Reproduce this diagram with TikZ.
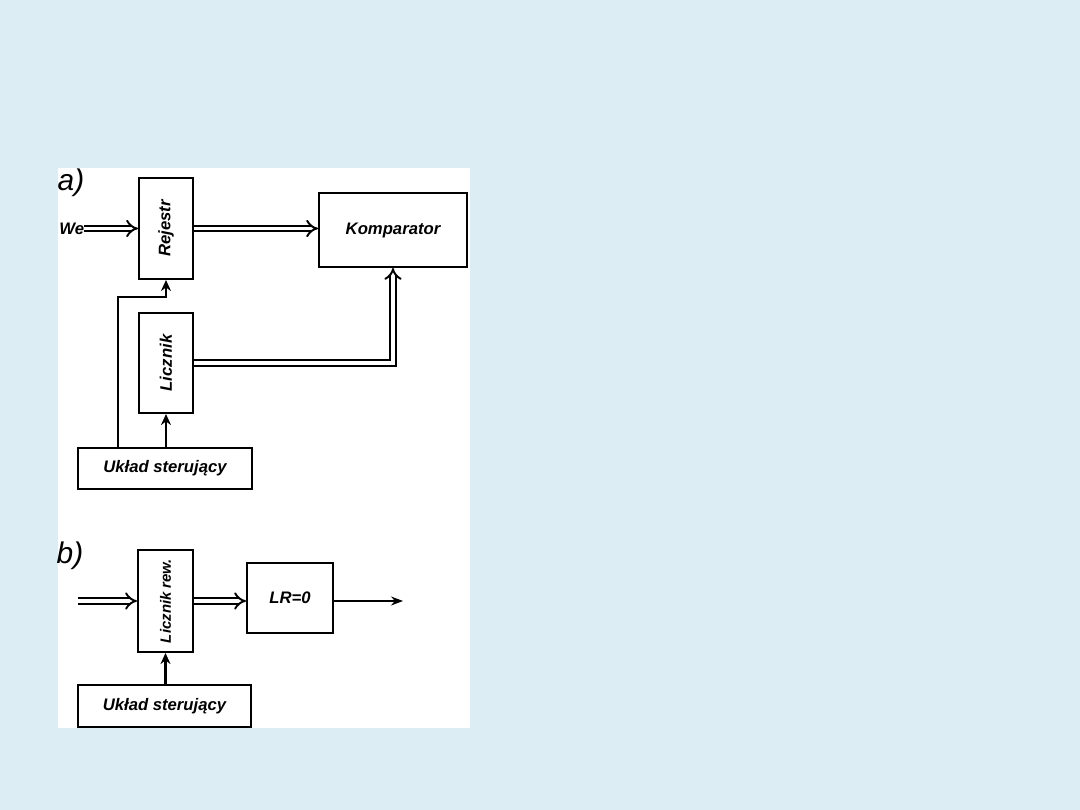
\documentclass[tikz,border=0pt]{standalone}
\usepackage{fontspec}
\setmainfont{Liberation Sans}
\usepackage{tikz}
\usetikzlibrary{arrows.meta, positioning}
\definecolor{slidebg}{HTML}{DCEEF4}

\begin{document}
\begin{tikzpicture}[
    x=0.02cm, y=-0.02cm,
    box/.style={draw, line width=1.2pt, fill=white, inner sep=0pt, align=center,
      font=\bfseries\itshape\fontsize{9.5}{11}\selectfont},
    lbl/.style={inner sep=0pt, font=\bfseries\itshape\fontsize{9.5}{11}\selectfont},
    part/.style={inner sep=0pt, font=\itshape\fontsize{17}{19}\selectfont},
    dbl/.style={-{Implies}, double, double distance=2.2pt, line width=1.1pt},
    arr/.style={-{Stealth[length=2.2mm, width=2mm]}, line width=1.2pt},
    thin arr/.style={-{Stealth[length=2.4mm, width=1.8mm]}, line width=0.6pt},
  ]
    % background of the slide
    \fill[slidebg] (0,0) rectangle (1080,810);
    \fill[white] (58,168) rectangle (470,728);

    % part a)
    \node[part] (pa) at (71,183) {a)};
    \node[box, minimum width=1.08cm, minimum height=2.02cm] (rej) at (166,228.5) {\rotatebox{90}{Rejestr}};
    \node[box, minimum width=2.96cm, minimum height=1.48cm] (komp) at (393,230) {Komparator};
    \node[box, minimum width=1.08cm, minimum height=2.0cm] (licz) at (166,363) {\rotatebox{90}{Licznik}};
    \node[box, minimum width=3.48cm, minimum height=0.82cm] (uklA) at (165,468.5) {Układ sterujący};
    \node[lbl, anchor=west] (we) at (59,228.5) {We};
    \coordinate (bendA) at (118,297);

    \draw[dbl] (we.east) -- (rej.west);
    \draw[dbl] (rej.east) -- (rej.east -| komp.west);
    \draw[dbl] (licz.east) -| (komp.south);
    \draw[arr] (uklA.north -| licz.south) -- (licz.south);
    \draw[arr] (bendA |- uklA.north) -- (bendA) -| (rej.south);

    % part b)
    \node[part] (pb) at (70,556) {b)};
    \node[box, minimum width=1.1cm, minimum height=2.04cm, font=\bfseries\itshape\fontsize{8.5}{10}\selectfont] (lrew) at (165.5,601) {\rotatebox{90}{Licznik rew.}};
    \node[box, minimum width=1.72cm, minimum height=1.4cm] (lr) at (290,598) {LR=0};
    \node[box, minimum width=3.46cm, minimum height=0.84cm] (uklB) at (164.5,706) {Układ sterujący};
    \coordinate (inB) at (78,601);
    \coordinate (outB) at (403,601);

    \draw[dbl] (inB) -- (lrew.west);
    \draw[dbl] (lrew.east) -- (lrew.east -| lr.west);
    \draw[thin arr] (lr.east |- outB) -- (outB);
    \draw[arr] (uklB.north -| lrew.south) -- (lrew.south);
  \end{tikzpicture}
\end{document}
